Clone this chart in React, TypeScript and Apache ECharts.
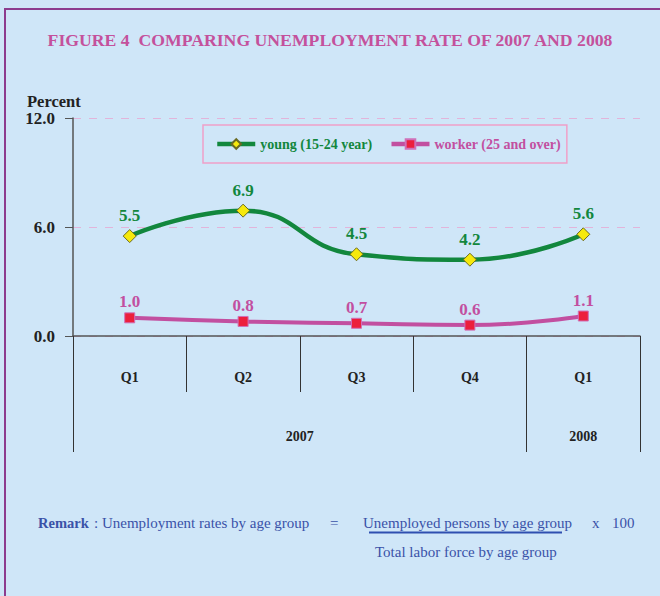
import React, { useEffect, useRef } from "react";
import * as echarts from "echarts";

const quarters = ["Q1", "Q2", "Q3", "Q4", "Q1"];
const yearLabels = ["2007", "2008"];
const young = [5.5, 6.9, 4.5, 4.2, 5.6];
const worker = [1.0, 0.8, 0.7, 0.6, 1.1];
const seriesNames = ["young (15-24 year)", "worker (25 and over)"];

const SERIF = "Liberation Serif";
const GREEN = "#12873d";
const PINK = "#c24fa0";
const BLUE = "#3a52a8";

export default function App() {
  const ref = useRef<HTMLDivElement>(null);
  useEffect(() => {
    document.body.style.margin = "0";
    if (!ref.current) return;
    const chart = echarts.init(ref.current, null, { renderer: "svg" });
    const labelStyle = (c: string, d: number) => ({
      show: true,
      position: "top" as const,
      distance: d,
      color: c,
      fontFamily: SERIF,
      fontWeight: "bold" as const,
      fontSize: 17,
      formatter: (p: any) => Number(p.value).toFixed(1),
    });
    const txt = (text: string, x: number, y: number, bold = false, size = 15) => ({
      type: "text",
      x,
      y,
      style: {
        text,
        fill: BLUE,
        fontFamily: SERIF,
        fontSize: size,
        fontWeight: bold ? "bold" : "normal",
        verticalAlign: "middle",
      },
    });
    chart.setOption({
      animation: false,
      backgroundColor: "#cfe6f8",
      textStyle: { fontFamily: SERIF },
      title: {
        text: "FIGURE 4  COMPARING UNEMPLOYMENT RATE OF 2007 AND 2008",
        left: "center",
        top: 26,
        textStyle: { fontFamily: SERIF, fontWeight: "bold", fontSize: 17.7, color: "#c4519c" },
      },
      legend: {
        left: 203,
        top: 125,
        padding: [12, 6, 12, 12],
        itemGap: 17,
        itemWidth: 38,
        itemHeight: 12,
        borderColor: "#f0a0c8",
        borderWidth: 1.5,
        lineStyle: { width: 4.5 },
        data: [
          { name: seriesNames[0], textStyle: { color: GREEN } },
          { name: seriesNames[1], textStyle: { color: PINK } },
        ],
        textStyle: { fontFamily: SERIF, fontWeight: "bold", fontSize: 14, padding: [6, 0, 0, 0] },
      },
      grid: { left: 73, right: 20, top: 118, bottom: 260 },
      xAxis: [
        {
          type: "category",
          data: quarters,
          boundaryGap: true,
          axisLine: { lineStyle: { color: "#555", width: 1.5 } },
          axisTick: { show: true, interval: 0, length: 56, lineStyle: { color: "#333", width: 1 } },
          axisLabel: { interval: 0, margin: 34, color: "#222", fontFamily: SERIF, fontWeight: "bold", fontSize: 14 },
        },
        {
          type: "value",
          min: 0,
          max: 5,
          position: "bottom",
          axisLine: { show: false },
          splitLine: { show: false },
          axisTick: { show: true, customValues: [0, 4, 5], length: 116, lineStyle: { color: "#333", width: 1 } },
          axisLabel: {
            customValues: [2, 4.5],
            margin: 93,
            color: "#222",
            fontFamily: SERIF,
            fontWeight: "bold",
            fontSize: 14,
            formatter: (v: number) => (v < 4 ? yearLabels[0] : yearLabels[1]),
          },
        },
      ],
      yAxis: {
        type: "value",
        min: 0,
        max: 12,
        interval: 6,
        axisLine: { show: true, lineStyle: { color: "#555", width: 1.5 } },
        axisTick: { show: true, length: 8, lineStyle: { color: "#555" } },
        axisLabel: {
          margin: 18,
          color: "#222",
          fontFamily: SERIF,
          fontWeight: "bold",
          fontSize: 17,
          formatter: (v: number) => v.toFixed(1),
        },
        splitLine: { show: true, lineStyle: { color: "#e2b4da", type: [8, 8], width: 1 } },
      },
      series: [
        {
          name: seriesNames[0],
          type: "line",
          data: young,
          smooth: 0.5,
          symbol: "diamond",
          symbolSize: 13,
          lineStyle: { color: GREEN, width: 4.5 },
          itemStyle: { color: "#f6e90c", borderColor: "#6a6a22", borderWidth: 1 },
          label: labelStyle(GREEN, 5),
          z: 3,
        },
        {
          name: seriesNames[1],
          type: "line",
          data: worker,
          smooth: 0.5,
          symbol: "rect",
          symbolSize: 10,
          lineStyle: { color: PINK, width: 4 },
          itemStyle: { color: "#ec1f3c", borderColor: "#d070b8", borderWidth: 1 },
          label: labelStyle(PINK, 2),
          z: 3,
        },
      ],
      graphic: [
        {
          type: "rect",
          shape: { x: 5, y: 9, width: 800, height: 800 },
          style: { fill: "none", stroke: "#8c3c8e", lineWidth: 2 },
          silent: true,
        },
        {
          type: "text",
          x: 27,
          y: 101,
          style: { text: "Percent", fill: "#222", fontFamily: SERIF, fontSize: 16.5, fontWeight: "bold", verticalAlign: "middle" },
        },
        txt("Remark", 38, 523, true, 14.5),
        txt(": Unemployment rates by age group", 94, 523),
        txt("=", 330, 523),
        txt("Unemployed persons by age group", 363, 523),
        txt("x", 592, 523),
        txt("100", 612, 523),
        {
          type: "line",
          shape: { x1: 369, y1: 532.5, x2: 562, y2: 532.5 },
          style: { stroke: "#2f4fb0", lineWidth: 2 },
        },
        txt("Total labor force by age group", 375, 552),
      ],
    });
    return () => chart.dispose();
  }, []);
  return <div ref={ref} style={{ width: 660, height: 596 }} />;
}
